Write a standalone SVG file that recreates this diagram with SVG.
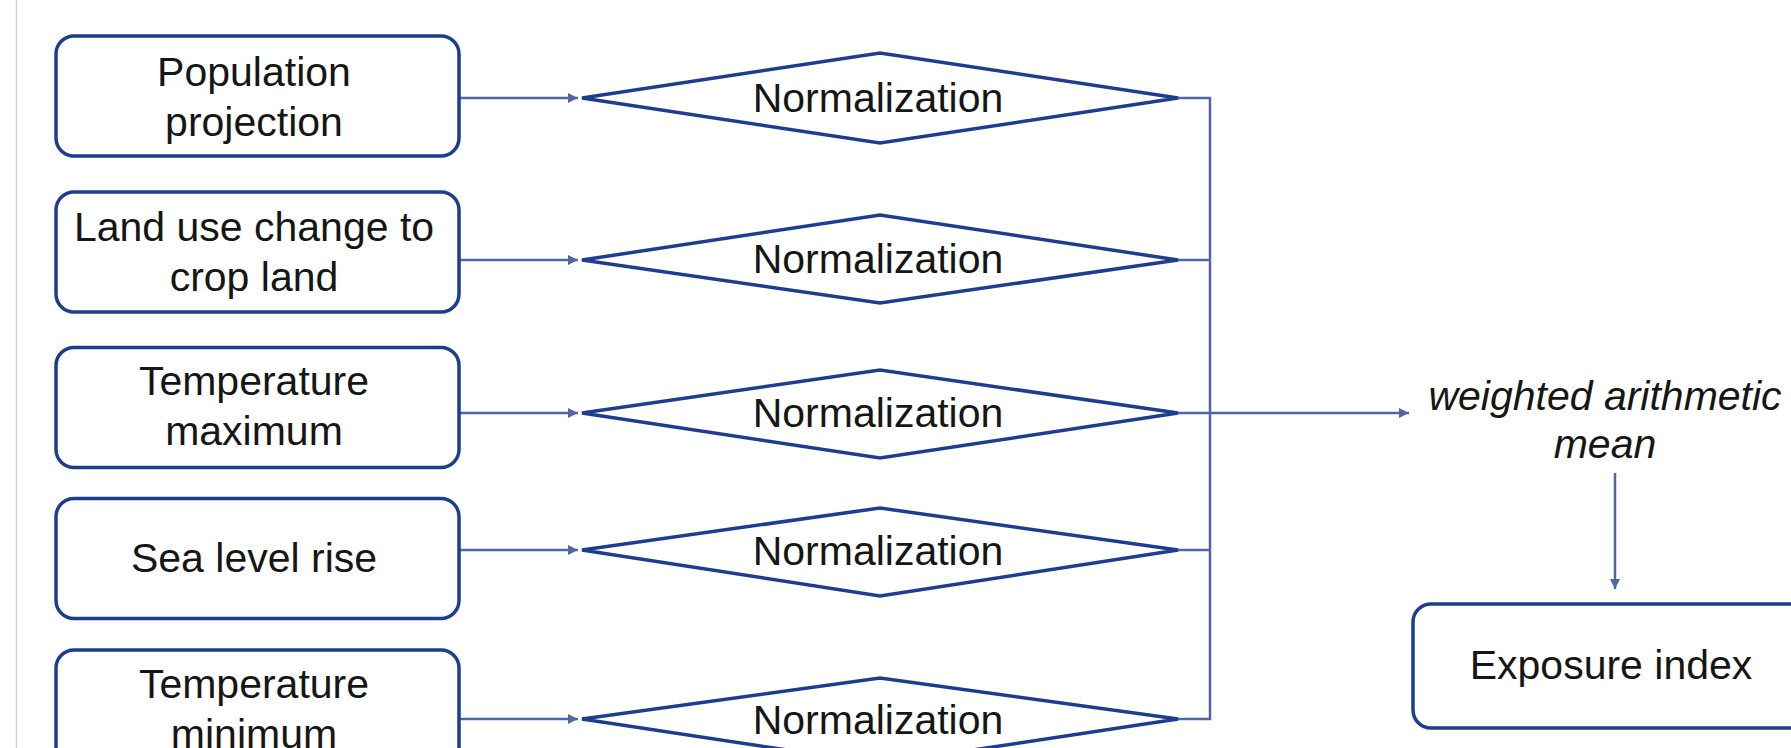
<svg xmlns="http://www.w3.org/2000/svg" width="1791" height="748" viewBox="0 0 1791 748">
  <style>
    .box { fill: #ffffff; stroke: #1f3d8f; stroke-width: 3.5; }
    .dia { fill: #ffffff; stroke: #1f3d8f; stroke-width: 3.5; stroke-linejoin: miter; }
    .lbl { font-family: "Liberation Sans", Arial, sans-serif; font-size: 41px; fill: #161616; text-anchor: middle; }
    .it { font-style: italic; }
    .con { fill: none; stroke: #4f67a5; stroke-width: 2.5; }
  </style>
  <defs>
    <marker id="arr" viewBox="0 0 10 10" refX="10" refY="5" markerWidth="11" markerHeight="10" markerUnits="userSpaceOnUse" orient="auto">
      <path d="M0,0 L10,5 L0,10 z" fill="#4f67a5"/>
    </marker>
  </defs>
  <rect x="0" y="0" width="1791" height="748" fill="#ffffff"/>
  <line x1="16.5" y1="0" x2="16.5" y2="748" stroke="#d4d4d4" stroke-width="1.5"/>

  <g id="connectors">
    <line class="con" x1="459" y1="98" x2="578" y2="98" marker-end="url(#arr)"/>
    <line class="con" x1="455" y1="260" x2="578" y2="260" marker-end="url(#arr)"/>
    <line class="con" x1="459" y1="413" x2="578" y2="413" marker-end="url(#arr)"/>
    <line class="con" x1="455" y1="550" x2="578" y2="550" marker-end="url(#arr)"/>
    <line class="con" x1="459" y1="719" x2="578" y2="719" marker-end="url(#arr)"/>
    <polyline class="con" points="1178,98 1210,98 1210,719 1178,719"/>
    <line class="con" x1="1178" y1="260" x2="1210" y2="260"/>
    <line class="con" x1="1178" y1="550" x2="1210" y2="550"/>
    <line class="con" x1="1178" y1="413" x2="1409" y2="413" marker-end="url(#arr)"/>
    <line class="con" x1="1615" y1="473" x2="1615" y2="589" marker-end="url(#arr)"/>
  </g>

  <g id="box-population">
    <rect class="box" x="56" y="36" width="403" height="120" rx="18"/>
    <text class="lbl" x="254" y="86">Population</text>
    <text class="lbl" x="254" y="136">projection</text>
  </g>
  <g id="box-landuse">
    <rect class="box" x="56" y="192" width="403" height="120" rx="18"/>
    <text class="lbl" x="254" y="241">Land use change to</text>
    <text class="lbl" x="254" y="291">crop land</text>
  </g>
  <g id="box-tmax">
    <rect class="box" x="56" y="347.5" width="403" height="120" rx="18"/>
    <text class="lbl" x="254" y="395">Temperature</text>
    <text class="lbl" x="254" y="445">maximum</text>
  </g>
  <g id="box-sealevel">
    <rect class="box" x="56" y="498.5" width="403" height="120" rx="18"/>
    <text class="lbl" x="254" y="572">Sea level rise</text>
  </g>
  <g id="box-tmin">
    <rect class="box" x="56" y="650" width="403" height="120" rx="18"/>
    <text class="lbl" x="254" y="698">Temperature</text>
    <text class="lbl" x="254" y="748">minimum</text>
  </g>

  <g id="norm-1">
    <polygon class="dia" points="582,98 880,53 1178,98 880,143"/>
    <text class="lbl" x="878" y="112">Normalization</text>
  </g>
  <g id="norm-2">
    <polygon class="dia" points="582,260 880,215 1178,260 880,303"/>
    <text class="lbl" x="878" y="273">Normalization</text>
  </g>
  <g id="norm-3">
    <polygon class="dia" points="582,413 880,370 1178,413 880,458"/>
    <text class="lbl" x="878" y="427">Normalization</text>
  </g>
  <g id="norm-4">
    <polygon class="dia" points="582,550 880,508 1178,550 880,596"/>
    <text class="lbl" x="878" y="565">Normalization</text>
  </g>
  <g id="norm-5">
    <polygon class="dia" points="582,719 880,678 1178,719 880,764"/>
    <text class="lbl" x="878" y="734">Normalization</text>
  </g>

  <g id="weighted-mean">
    <text class="lbl it" x="1605" y="410">weighted arithmetic</text>
    <text class="lbl it" x="1605" y="458">mean</text>
  </g>

  <g id="box-exposure">
    <rect class="box" x="1413" y="604" width="420" height="124" rx="18"/>
    <text class="lbl" x="1611" y="679">Exposure index</text>
  </g>
</svg>
